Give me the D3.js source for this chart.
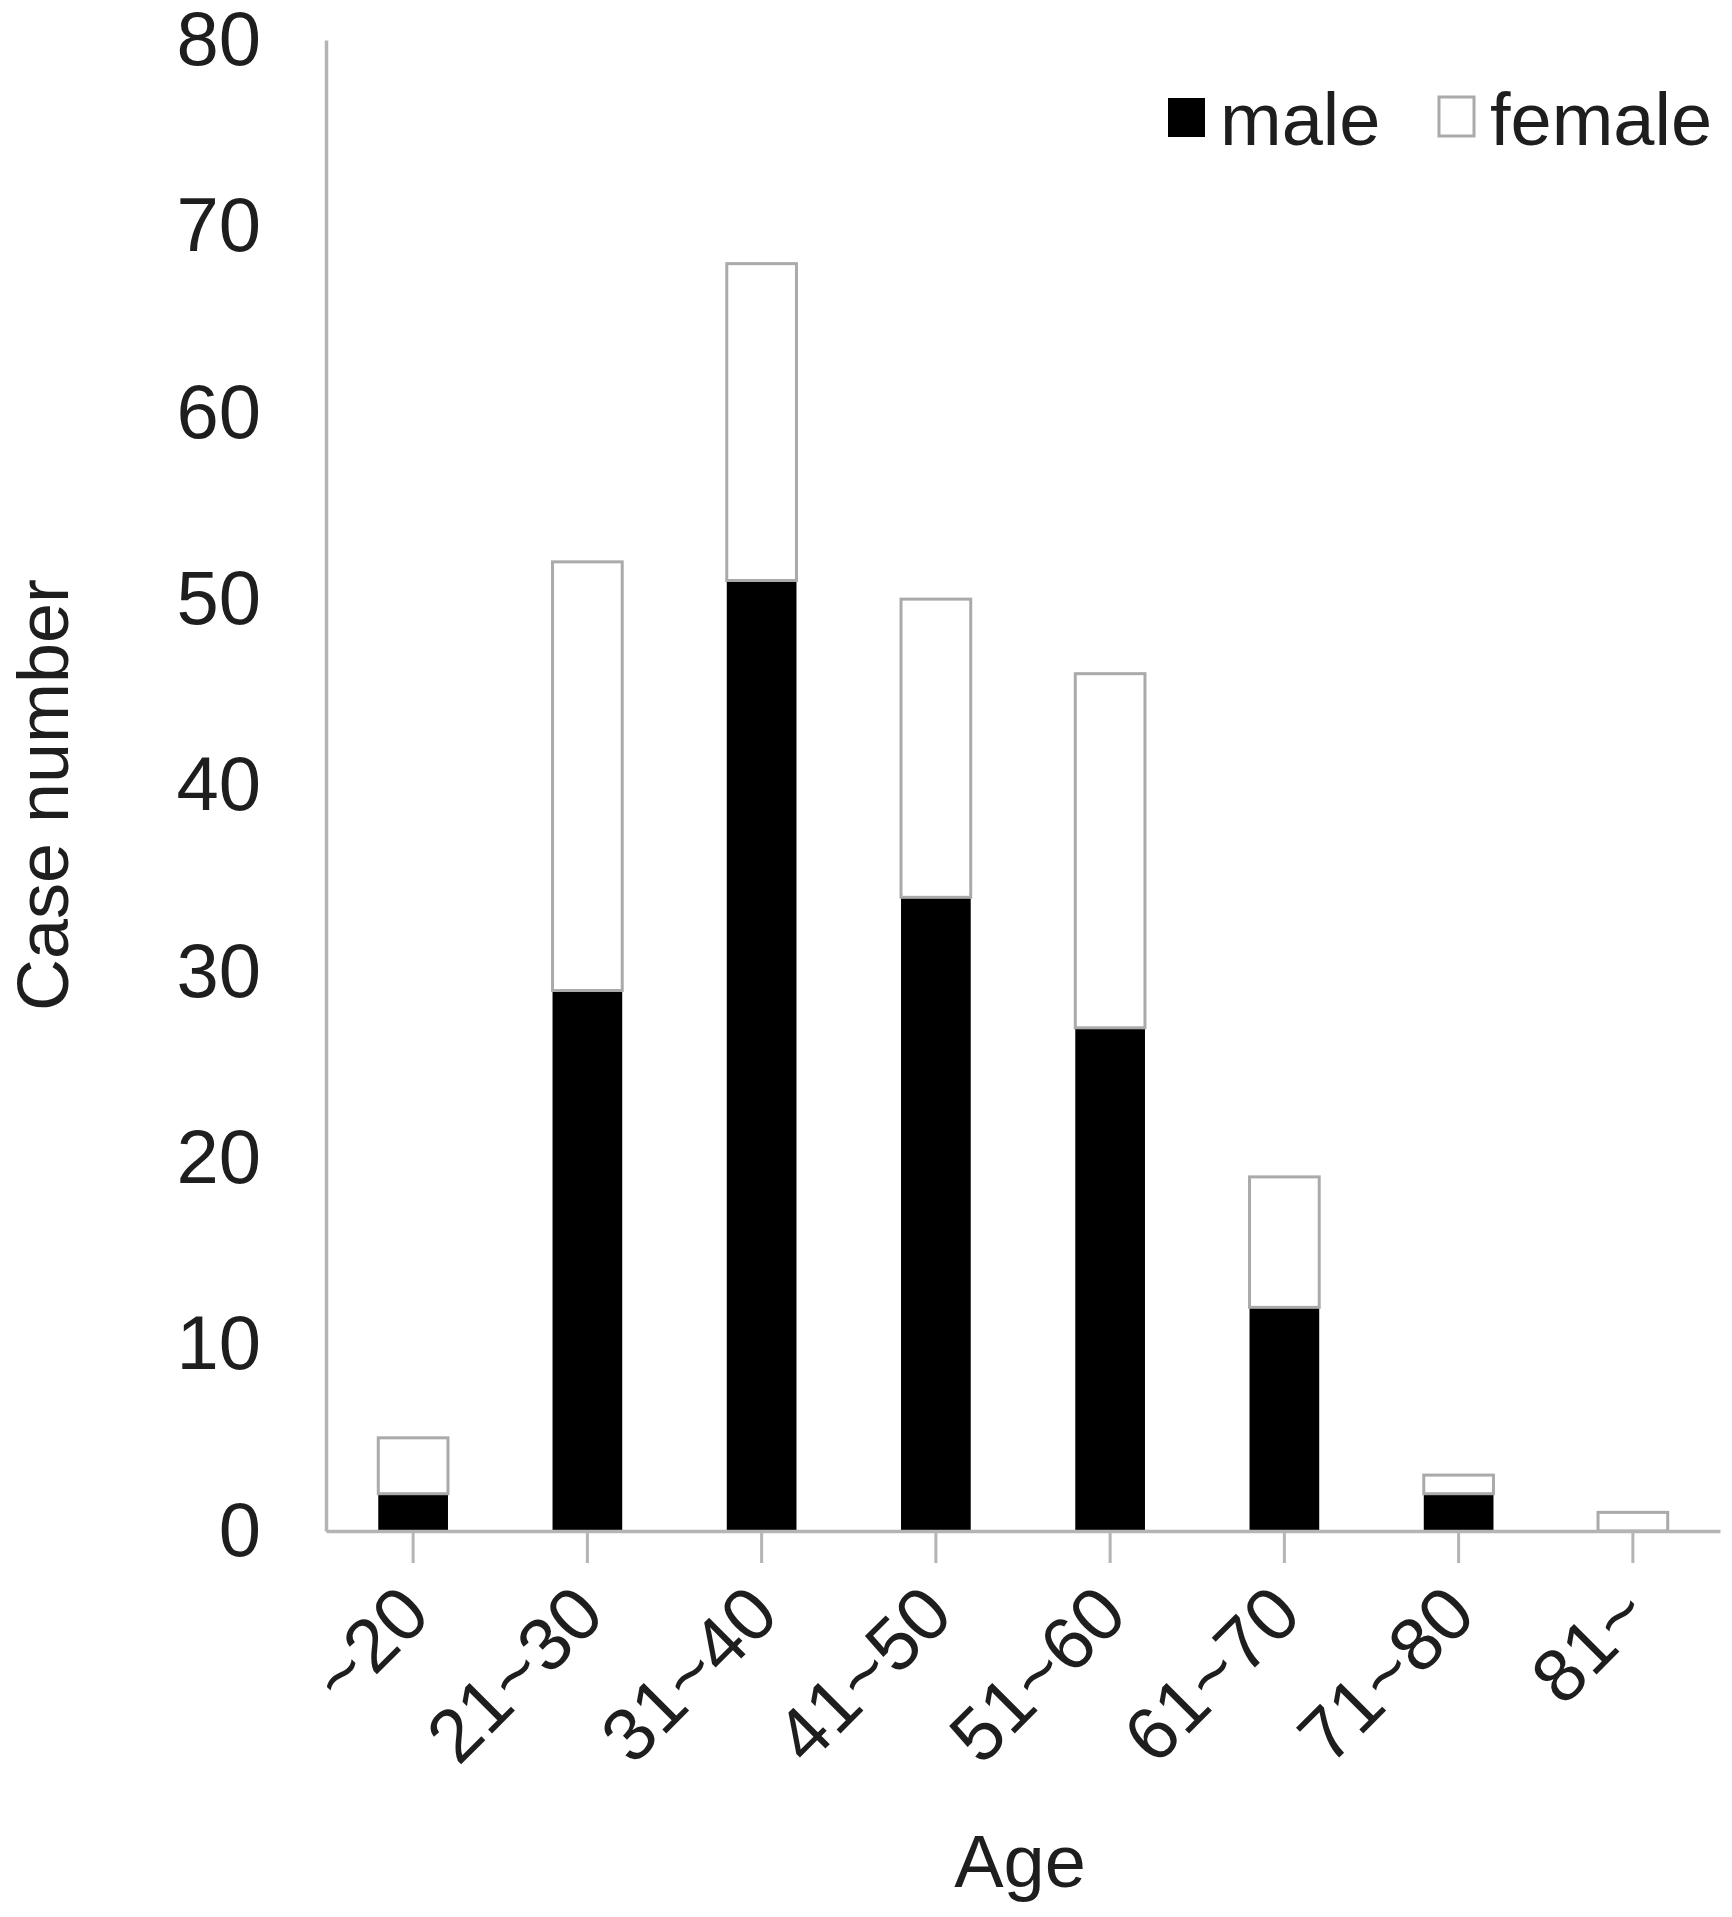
<!DOCTYPE html>
<meta charset="utf-8">
<style>
body { margin: 0; background: #fff; }
text { font-family: "Liberation Sans", Arial, sans-serif; fill: #1e1e1e; }
</style>
<svg width="1732" height="1917"></svg>
<script src="https://d3js.org/d3.v7.min.js"></script>
<script>
// age groups and case counts
var ages   = ["~20", "21~30", "31~40", "41~50", "51~60", "61~70", "71~80", "81~"];
var male   = [2, 29, 51, 34, 27, 12, 2, 0];
var female = [3, 23, 17, 16, 19, 7, 1, 1];
var yTicks = [0, 10, 20, 30, 40, 50, 60, 70, 80];

var svg = d3.select("svg");

var axisGray = "#b4b4b4";

var x = d3.scaleBand()
    .domain(ages)
    .range([326, 1720])
    .paddingInner(0.6)
    .paddingOuter(0.3);

var y = d3.scaleLinear()
    .domain([0, 80])
    .range([1531, 40]);

var table = ages.map(function(a, i) { return {age: a, male: male[i], female: female[i]}; });
var stack = d3.stack().keys(["male", "female"])(table);

// bars
svg.append("g")
  .selectAll("g")
  .data(stack)
  .enter().append("g")
    .attr("fill", function(s) { return s.key == "male" ? "#000" : "#fff"; })
    .attr("stroke", function(s) { return s.key == "male" ? "none" : "#aaa"; })
    .attr("stroke-width", 3)
  .selectAll("rect")
  .data(function(s) { return s; })
  .enter().append("rect")
    .attr("x", function(d) { return x(d.data.age); })
    .attr("y", function(d) { return y(d[1]); })
    .attr("width", x.bandwidth())
    .attr("height", function(d) { return y(d[0]) - y(d[1]); });

// y axis
var gy = svg.append("g")
    .attr("transform", "translate(326,0)")
    .call(d3.axisLeft(y).tickValues(yTicks).tickSize(0).tickPadding(65));
gy.select(".domain").attr("stroke", axisGray).attr("stroke-width", 3.5);
gy.selectAll("text").style("font-size", "76px").attr("font-family", null);

// x axis
var gx = svg.append("g")
    .attr("transform", "translate(0,1531)")
    .call(d3.axisBottom(x).tickSize(32).tickSizeOuter(0));
gx.select(".domain").attr("stroke", axisGray).attr("stroke-width", 3.5);
gx.selectAll(".tick line").attr("stroke", axisGray).attr("stroke-width", 3);
gx.selectAll("text")
    .attr("font-family", null)
    .style("font-size", "75px")
    .attr("text-anchor", "end")
    .attr("x", 0).attr("y", 0).attr("dy", 0)
    .attr("transform", "translate(20,87) rotate(-45)");

// axis titles
svg.append("text")
    .attr("transform", "translate(68,795) rotate(-90)")
    .attr("text-anchor", "middle")
    .style("font-size", "72px")
    .text("Case number");

svg.append("text")
    .attr("x", 1020).attr("y", 1887)
    .attr("text-anchor", "middle")
    .style("font-size", "74px")
    .text("Age");

// legend
svg.append("rect").attr("x", 1168).attr("y", 98).attr("width", 37).attr("height", 39)
    .attr("fill", "#000");
svg.append("text").attr("x", 1220).attr("y", 145).style("font-size", "74px").text("male");
svg.append("rect").attr("x", 1439).attr("y", 97).attr("width", 35).attr("height", 39)
    .attr("fill", "#fff").attr("stroke", "#aaa").attr("stroke-width", 3);
svg.append("text").attr("x", 1490).attr("y", 145).style("font-size", "74px").text("female");
</script>
